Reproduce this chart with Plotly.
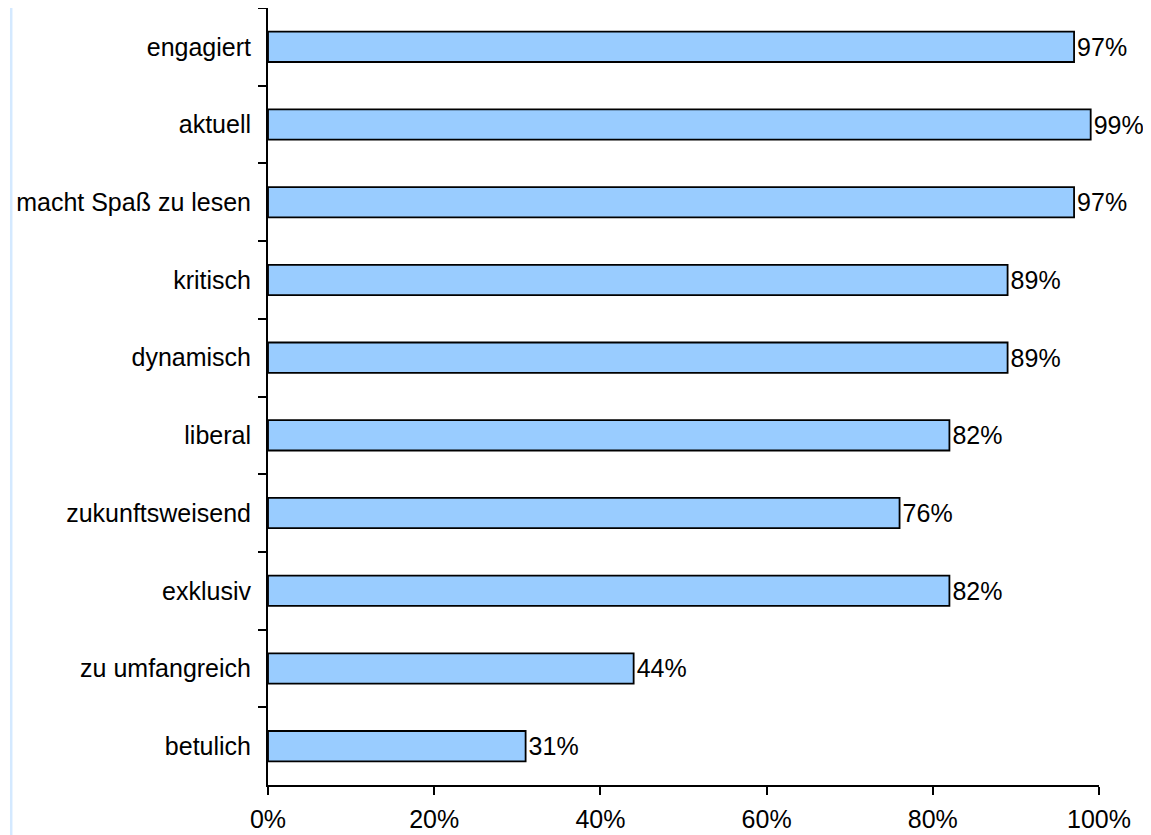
import plotly.graph_objects as go

categories = ["engagiert", "aktuell", "macht Spaß zu lesen", "kritisch", "dynamisch",
              "liberal", "zukunftsweisend", "exklusiv", "zu umfangreich", "betulich"]
values = [0.97, 0.99, 0.97, 0.89, 0.89, 0.82, 0.76, 0.82, 0.44, 0.31]
labels = ["97%", "99%", "97%", "89%", "89%", "82%", "76%", "82%", "44%", "31%"]
x_ticks = [0, 0.2, 0.4, 0.6, 0.8, 1.0]

FONT = dict(family="Liberation Sans, Arial, sans-serif", size=25, color="black")

fig = go.Figure()
fig.add_trace(go.Bar(
    x=values, y=categories, orientation="h",
    marker=dict(color="#99CCFF", line=dict(color="black", width=1.8)),
    text=labels, textposition="outside", textfont=FONT,
    constraintext="none", cliponaxis=False,
))

# thin light-blue frame line on the left edge
fig.add_shape(type="line", xref="paper", yref="paper", x0=-0.309, x1=-0.309, y0=-0.1, y1=1.02,
              line=dict(color="#D4E9FF", width=2.5))

fig.update_layout(
    width=1151, height=835,
    margin=dict(l=260, r=60, t=0, b=58),
    plot_bgcolor="white", paper_bgcolor="white",
    font=FONT, bargap=0.61, showlegend=False,
)
fig.update_xaxes(range=[0, 1], tickvals=x_ticks, tickformat=".0%", showgrid=False,
                 showline=True, linecolor="black", linewidth=2, ticks="outside",
                 ticklen=8, tickwidth=2, tickcolor="black", zeroline=False,
                 ticklabelstandoff=3)
fig.update_yaxes(categoryorder="array", categoryarray=categories, autorange="reversed",
                 showgrid=False, showline=True, linecolor="black", linewidth=2,
                 ticks="outside", tickson="boundaries", ticklen=8, tickwidth=2,
                 tickcolor="black", ticklabelstandoff=10)

fig.write_html("out.html")
